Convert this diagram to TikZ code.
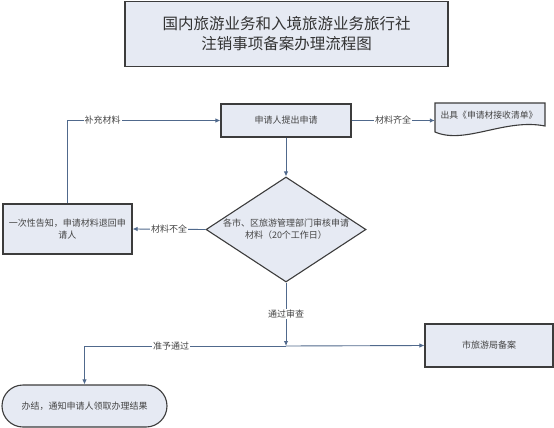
\documentclass[tikz,border=0pt]{standalone}
\usepackage{fontspec}
\setmainfont{Noto Sans CJK SC}
\usetikzlibrary{arrows.meta,shapes.geometric}
\definecolor{boxfill}{HTML}{E6EAF3}
\definecolor{boxline}{HTML}{3C3C3C}
\definecolor{connline}{HTML}{50698C}
\definecolor{txt}{HTML}{444444}
\tikzset{
  box/.style={draw=boxline, line width=1.1pt, fill=boxfill, inner sep=2pt, align=center, font=\fontsize{9}{12}\selectfont, text=txt},
  conn/.style={draw=connline, line width=0.9pt, -{Latex[length=5pt,width=4.5pt]}},
  plain/.style={draw=connline, line width=0.9pt},
  lbl/.style={fill=white, inner sep=1pt, font=\fontsize{9}{11}\selectfont, text=txt},
}
\begin{document}
\begin{tikzpicture}[x=1pt,y=-1pt]
\useasboundingbox (0,0) rectangle (554,428);
% title
\node[box, minimum width=323pt, minimum height=65pt, font=\fontsize{15.5}{20}\selectfont, text=black!80] (title) at (286.5,34) {国内旅游业务和入境旅游业务旅行社\\注销事项备案办理流程图};
% main box
\node[box, minimum width=130pt, minimum height=33pt] (apply) at (286,120.5) {申请人提出申请};
% document shape
\node[minimum width=110pt, minimum height=34pt, inner sep=0pt] (doc) at (490,120) {};
\draw[boxline, line width=1.1pt, fill=boxfill] (435,103) -- (545,103) -- (545,126) .. controls (505,118) and (465,145) .. (435,132) -- cycle;
\node[font=\fontsize{8.8}{11}\selectfont, text=txt, inner sep=0pt] (doctext) at (489,115) {出具《申请材接收清单》};
% left box
\node[box, minimum width=129pt, minimum height=50pt] (notify) at (67.5,229) {一次性告知，申请材料退回申\\请人};
% diamond
\node[draw=boxline, line width=1.1pt, fill=boxfill, diamond, minimum width=160pt, minimum height=105pt, inner sep=0pt] (check) at (286,229.5) {};
\node[align=center, font=\fontsize{9}{12}\selectfont, text=txt] (checktext) at (check.center) {各市、区旅游管理部门审核申请\\材料（20个工作日）};
% right box
\node[box, minimum width=128pt, minimum height=43pt] (record) at (489,345.5) {市旅游局备案};
% terminator
\node[box, minimum width=165pt, minimum height=42pt, rounded corners=21pt] (done) at (84.5,406) {办结，通知申请人领取办理结果};
% junction
\coordinate (j) at (286,346);
% connectors
\draw[conn] (apply.east) -- node[lbl]{材料齐全} (apply.east -| doc.west);
\draw[conn] (apply.south) -- (check.north);
\draw[conn] (check.west) -- node[lbl]{材料不全} (notify.east);
\draw[conn] (notify.north) |- node[lbl, pos=0.615]{补充材料} (apply.west);
\draw[conn] (check.south) -- node[lbl, pos=0.5]{通过审查} (j);
\draw[conn] (j) -| node[lbl, pos=0.285]{准予通过} (done.north);
\draw[conn] (j) -- (record.west);
\end{tikzpicture}
\end{document}
